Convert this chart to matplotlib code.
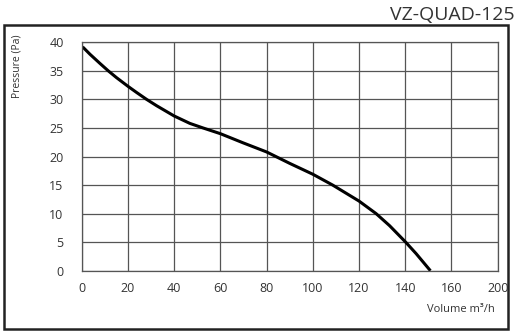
import matplotlib
matplotlib.use("Agg")
import matplotlib.pyplot as plt
from matplotlib.patches import Rectangle

plt.rcParams['font.family'] = ['Open Sans', 'DejaVu Sans']

# fan curve
volume = [0.4, 3.6, 7.9, 11.5, 15.1, 20, 23.8, 28.1, 32.4, 40, 46.8, 52.5,
          60, 69.8, 80, 90, 100, 108.6, 120, 127.4, 133.2, 140.2, 144.7, 150.9]
pressure = [39.2, 37.9, 36.3, 35, 33.8, 32.3, 31.2, 30, 28.9, 27.1, 25.8, 25,
            24.0, 22.4, 20.8, 18.8, 16.9, 15, 12.2, 10, 7.9, 5, 3.0, 0]

x_ticks = [0, 20, 40, 60, 80, 100, 120, 140, 160, 180]
x_tick_labels = ['0', '20', '40', '60', '80', '100', '120', '140', '160', '200']
y_ticks = [0, 5, 10, 15, 20, 25, 30, 35, 40]

title = 'VZ-QUAD-125'
text_col = '#333333'
grid_col = '#555555'


def plot():
    fig = plt.figure(figsize=(5.19, 3.33), dpi=100)
    fig.patch.set_facecolor('white')

    # outer frame
    fig.patches.append(Rectangle((0.0077, 0.012), 0.971, 0.913, transform=fig.transFigure,
                                 fill=False, edgecolor='#222222', linewidth=1.8))

    ax = fig.add_axes([0.1574, 0.187, 0.8015, 0.686])
    ax.plot(volume, pressure, color='black', linewidth=2.2,
            solid_capstyle='butt', solid_joinstyle='round')

    ax.set_xlim(0, 180)
    ax.set_ylim(0, 40)
    ax.set_xticks(x_ticks)
    ax.set_xticklabels(x_tick_labels)
    ax.set_yticks(y_ticks)
    ax.grid(True, color=grid_col, linewidth=0.9)
    ax.set_axisbelow(True)
    for s in ax.spines.values():
        s.set_color(grid_col)
        s.set_linewidth(0.9)
    ax.tick_params(length=0, labelsize=9, labelcolor=text_col)
    ax.tick_params(axis='y', pad=13)
    ax.tick_params(axis='x', pad=8)

    fig.text(0.992, 0.955, title, ha='right', va='center', fontsize=14, color=text_col)
    fig.text(0.032, 0.80, 'Pressure (Pa)', rotation=90, ha='center', va='center',
             fontsize=7.5, color=text_col)
    fig.text(0.954, 0.072, 'Volume m³/h', ha='right', va='center', fontsize=8, color=text_col)

    fig.savefig('out.png', dpi=100)


def main():
    plot()


if __name__ == "__main__":
    main()
